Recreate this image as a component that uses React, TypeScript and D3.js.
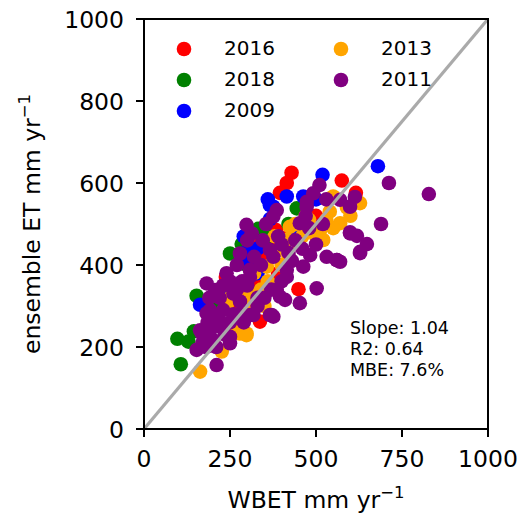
import React from 'react'
import * as d3 from 'd3'

const W = 524
const H = 514
const M = { left: 144, right: 488, top: 19, bottom: 429 }

const xTicks = [0, 250, 500, 750, 1000]
const yTicks = [0, 200, 400, 600, 800, 1000]

const years = ['2016', '2018', '2009', '2013', '2011']
const colors = ['red', 'green', 'blue', 'orange', 'purple']

// [WBET, ensemble ET] per year
const pts2016 = [
  [429, 625], [415, 600], [395, 576], [575, 606], [616, 576], [384, 485],
  [340, 456], [347, 448], [365, 450], [449, 341], [337, 262], [238, 371],
  [310, 400], [360, 420], [280, 330], [420, 470], [500, 520], [455, 500],
  [300, 440], [250, 300], [390, 380], [330, 350]
]
const pts2018 = [
  [444, 538], [332, 488], [284, 451], [250, 428], [153, 325], [97, 220],
  [129, 213], [107, 158], [145, 238], [300, 400], [420, 500], [360, 470], [200, 300]
]
const pts2009 = [
  [519, 620], [680, 641], [415, 567], [366, 546], [366, 512], [463, 567],
  [298, 432], [279, 355], [163, 303], [376, 542], [300, 410], [440, 480],
  [330, 380], [230, 330], [500, 560], [360, 560], [330, 440], [290, 470]
]
const pts2013 = [
  [550, 567], [628, 551], [424, 493], [492, 485], [521, 461], [415, 461],
  [512, 485], [570, 502], [357, 396], [269, 331], [279, 233], [298, 233],
  [163, 140], [226, 189], [298, 229], [600, 520], [470, 520], [540, 530],
  [450, 450], [500, 470], [380, 430], [320, 380], [250, 320], [200, 270],
  [300, 300], [350, 300], [550, 490], [590, 540], [400, 400], [340, 340],
  [240, 300], [270, 350], [310, 330], [360, 360], [420, 420], [440, 500],
  [480, 510], [530, 510], [460, 470], [230, 250], [260, 240], [380, 470]
]
const pts2011 = [
  [828, 573], [712, 600], [689, 500], [648, 451], [628, 429], [619, 471],
  [599, 480], [613, 566], [570, 559], [599, 542], [561, 412], [510, 595],
  [492, 575], [473, 554], [386, 534], [376, 518], [298, 498], [313, 477],
  [279, 428], [531, 420], [560, 412], [483, 424], [463, 396], [376, 420],
  [240, 380], [308, 371], [415, 371], [502, 343], [453, 307], [395, 323],
  [410, 315], [376, 274], [318, 278], [182, 355], [206, 339], [192, 290],
  [250, 225], [163, 241], [153, 193], [168, 233], [211, 156], [250, 209],
  [201, 217], [182, 282], [279, 311], [371, 278], [453, 502], [473, 542],
  [599, 477], [628, 432], [570, 408], [308, 388], [366, 437], [415, 388],
  [386, 339], [366, 278], [308, 278], [440, 460], [470, 520], [530, 560],
  [250, 260], [220, 250], [300, 350], [340, 400], [400, 450], [270, 340],
  [230, 290], [190, 230], [350, 320], [420, 430], [480, 490], [230, 350],
  [215, 270], [200, 250], [170, 210], [190, 320], [260, 330], [285, 360],
  [320, 420], [345, 460], [330, 300], [290, 260], [260, 280], [235, 230],
  [210, 200], [185, 260], [270, 400], [300, 460], [355, 500], [390, 470],
  [430, 410], [460, 440], [500, 450], [520, 500], [400, 360], [370, 340],
  [330, 320], [280, 280], [250, 360], [220, 320], [180, 200]
]
const series = [pts2016, pts2018, pts2009, pts2013, pts2011]

const stats = ['Slope: 1.04', 'R2: 0.64', 'MBE: 7.6%']

const font = 'DejaVu Sans, sans-serif'

export default function App() {
  const x = d3.scaleLinear().domain([0, 1000]).range([M.left, M.right])
  const y = d3.scaleLinear().domain([0, 1000]).range([M.bottom, M.top])
  const diag = d3.line<number>().x(d => x(d)).y(d => y(d))([0, 1000])

  return (
    <div style={{ position: 'absolute', left: 0, top: 0 }}>
      <svg width={W} height={H} style={{ display: 'block', background: '#fff' }} fontFamily={font}>
        {series.map((pts, i) => (
          <g key={years[i]} fill={colors[i]}>
            {pts.map((p, j) => (
              <circle key={j} cx={x(p[0])} cy={y(p[1])} r={7.3} />
            ))}
          </g>
        ))}
        <path d={diag || ''} stroke="#aaaaaa" strokeWidth={3.2} fill="none" />

        {/* legend: two columns like matplotlib ncol=2 */}
        {years.map((yr, i) => {
          const col = i < 3 ? 0 : 1
          const row = i < 3 ? i : i - 3
          const mx = col === 0 ? 184 : 341
          const my = 49 + row * 31
          return (
            <g key={yr}>
              <circle cx={mx} cy={my} r={7.3} fill={colors[i]} />
              <text x={mx + 40} y={my + 6} fontSize={20}>{yr}</text>
            </g>
          )
        })}

        {stats.map((s, i) => (
          <text key={s} x={350} y={334 + i * 21} fontSize={17.5}>{s}</text>
        ))}

        <rect x={M.left} y={M.top} width={M.right - M.left} height={M.bottom - M.top}
          fill="none" stroke="#000" strokeWidth={2} />

        {xTicks.map(t => (
          <g key={t}>
            <line x1={x(t)} x2={x(t)} y1={M.bottom} y2={M.bottom + 8} stroke="#000" strokeWidth={2} />
            <text x={x(t)} y={467} fontSize={23.5} textAnchor="middle">{t}</text>
          </g>
        ))}
        {yTicks.map(t => (
          <g key={t}>
            <line x1={M.left - 8} x2={M.left} y1={y(t)} y2={y(t)} stroke="#000" strokeWidth={2} />
            <text x={124} y={y(t) + 8.5} fontSize={23.5} textAnchor="end">{t}</text>
          </g>
        ))}

        <text x={(M.left + M.right) / 2} y={508} fontSize={23.5} textAnchor="middle">
          WBET mm yr<tspan dy={-10} fontSize={16.5}>−1</tspan>
        </text>
        <text transform={`translate(40,${(M.top + M.bottom) / 2}) rotate(-90)`} fontSize={23.5} textAnchor="middle">
          ensemble ET mm yr<tspan dy={-10} fontSize={16.5}>−1</tspan>
        </text>
      </svg>
    </div>
  )
}
